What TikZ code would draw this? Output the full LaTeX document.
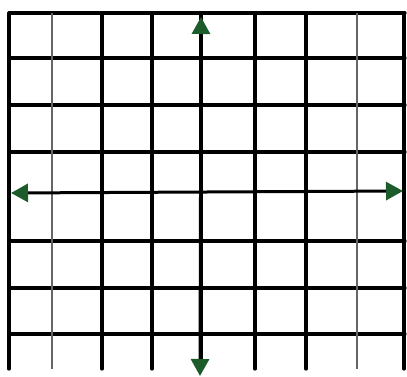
\documentclass[tikz,border=0pt]{standalone}
\usepackage{tikz}
\usetikzlibrary{arrows.meta}
\definecolor{arrowgreen}{RGB}{28,92,42}

\begin{document}
\begin{tikzpicture}[x=1pt,y=-1pt]
        \tikzset{GridLine/.style={line width=3.2pt, black, line cap=round},
        FaintLine/.style={line width=1.8pt, black!60},
        AxisStyle/.style={line width=3pt, black, {Triangle[length=17pt,width=18pt,color=arrowgreen]}-{Triangle[length=17pt,width=18pt,color=arrowgreen]}}}
        \useasboundingbox (0,0) rectangle (407,377);
        % rows
        \foreach \y in {13,58,105,152,241,288,334}
            \draw[GridLine] (9,\y) -- (405,\y);
        % columns
        \foreach \x in {9,102,152,255,306,404}
            \draw[GridLine] (\x,13) -- (\x,369);
        \foreach \x in {52,357}
            \draw[FaintLine] (\x,13) -- (\x,369);
        \draw[GridLine] (201,13) -- (201,369);
        % axes
        \coordinate (top) at (201,17);
        \coordinate (bottom) at (200,376);
        \coordinate (left) at (11,193);
        \coordinate (right) at (403,191);
        \draw[AxisStyle] (bottom) -- (top);
        \draw[AxisStyle] (left) -- (right);
    \end{tikzpicture}
\end{document}
